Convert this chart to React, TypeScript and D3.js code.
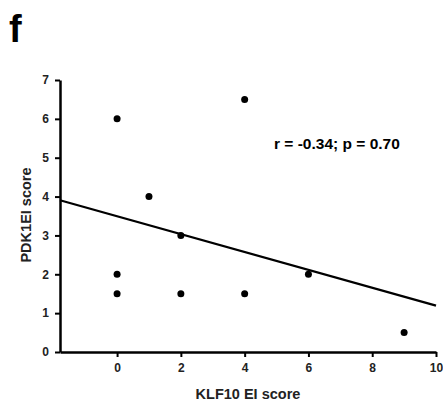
import React, { useEffect, useRef } from 'react';
import * as d3 from 'd3';

// KLF10 EI score vs PDK1EI score
const klf10 = [0, 0, 0, 1, 2, 2, 4, 4, 6, 9];
const pdk1 = [6, 2, 1.5, 4, 3, 1.5, 6.5, 1.5, 2, 0.5];
const xTicks = [0, 2, 4, 6, 8, 10];
const yTicks = [0, 1, 2, 3, 4, 5, 6, 7];
const statLabel = 'r = -0.34; p = 0.70';

const App = () => {
  const ref = useRef<SVGSVGElement>(null);

  useEffect(() => {
    const width = 443, height = 405;
    const svg = d3.select(ref.current);
    svg.selectAll('*').remove();
    svg.attr('width', width).attr('height', height);

    const x = d3.scaleLinear().domain([-1.79, 10]).range([60, 436]);
    const y = d3.scaleLinear().domain([0, 7]).range([352, 80]);
    const font = 'Liberation Sans, Arial, sans-serif';

    // panel letter
    svg.append('text')
      .attr('x', 9).attr('y', 42)
      .attr('font-family', font).attr('font-weight', 'bold').attr('font-size', 38)
      .text('f');

    // x axis
    const gx = svg.append('g').attr('transform', `translate(0,${y(0)})`)
      .call(d3.axisBottom(x).tickValues(xTicks).tickFormat(d3.format('d')).tickSize(5).tickPadding(6).tickSizeOuter(0));
    gx.select('.domain').attr('stroke-width', 2.5);
    gx.selectAll('.tick line').attr('stroke-width', 2);
    gx.selectAll('.tick text')
      .attr('font-family', font).attr('font-weight', 'bold').attr('font-size', 12).attr('fill', '#222');

    // y axis
    const gy = svg.append('g').attr('transform', `translate(${x(-1.79)},0)`)
      .call(d3.axisLeft(y).tickValues(yTicks).tickFormat(d3.format('d')).tickSize(5).tickPadding(6).tickSizeOuter(0));
    gy.select('.domain').attr('stroke-width', 2.5);
    gy.selectAll('.tick line').attr('stroke-width', 2);
    gy.selectAll('.tick text')
      .attr('font-family', font).attr('font-weight', 'bold').attr('font-size', 12).attr('fill', '#222');

    // regression line (least squares fit of the points)
    const mx = d3.mean(klf10)!, my = d3.mean(pdk1)!;
    const sxy = d3.sum(klf10, (v, i) => (v - mx) * (pdk1[i] - my));
    const sxx = d3.sum(klf10, v => (v - mx) ** 2);
    const slope = sxy / sxx, icpt = my - slope * mx;
    const [x0, x1] = x.domain();
    svg.append('line')
      .attr('x1', x(x0)).attr('y1', y(icpt + slope * x0))
      .attr('x2', x(x1)).attr('y2', y(icpt + slope * x1))
      .attr('stroke', '#000').attr('stroke-width', 2.2);

    // points
    svg.append('g').selectAll('circle')
      .data(klf10.map((v, i) => [v, pdk1[i]]))
      .enter().append('circle')
      .attr('cx', d => x(d[0])).attr('cy', d => y(d[1]))
      .attr('r', 3.5).attr('fill', '#000');

    // stats
    svg.append('text')
      .attr('x', 274).attr('y', 149)
      .attr('font-family', font).attr('font-weight', 'bold').attr('font-size', 15.5)
      .text(statLabel);

    // axis titles
    svg.append('text')
      .attr('x', 248).attr('y', 399)
      .attr('text-anchor', 'middle')
      .attr('font-family', font).attr('font-weight', 'bold').attr('font-size', 14.5)
      .attr('fill', '#222')
      .text('KLF10 EI score');

    svg.append('text')
      .attr('transform', 'translate(31,215) rotate(-90)')
      .attr('text-anchor', 'middle')
      .attr('font-family', font).attr('font-weight', 'bold').attr('font-size', 14.5)
      .attr('fill', '#222')
      .text('PDK1EI score');
  }, []);

  return <svg ref={ref} style={{ position: 'absolute', left: 0, top: 0 }}></svg>;
};

export default App;
